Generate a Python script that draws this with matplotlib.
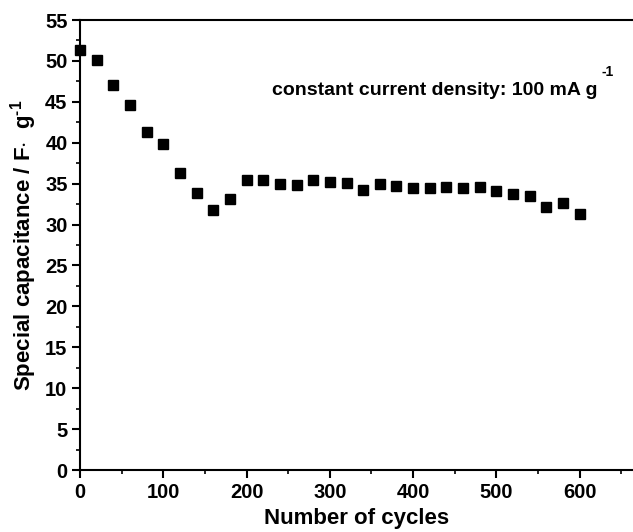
import matplotlib
matplotlib.use("Agg")
import matplotlib.pyplot as plt
from matplotlib.ticker import MultipleLocator

plt.rcParams['font.family'] = ['Liberation Sans', 'DejaVu Sans']
plt.rcParams['font.weight'] = 'bold'
plt.rcParams['mathtext.fontset'] = 'custom'
plt.rcParams['mathtext.rm'] = 'Liberation Sans:bold'
plt.rcParams['mathtext.bf'] = 'Liberation Sans:bold'
plt.rcParams['mathtext.default'] = 'bf'

# Cycle number vs specific capacitance
cycles = [0, 20, 40, 60, 80, 100, 120, 140, 160, 180, 200, 220, 240, 260, 280, 300,
          320, 340, 360, 380, 400, 420, 440, 460, 480, 500, 520, 540, 560, 580, 600]
capacitance = [51.3, 50.1, 47.1, 44.6, 41.3, 39.9, 36.3, 33.9, 31.8, 33.1, 35.5, 35.5,
               34.9, 34.8, 35.5, 35.2, 35.1, 34.2, 34.9, 34.7, 34.5, 34.5, 34.6, 34.5,
               34.6, 34.1, 33.7, 33.5, 32.2, 32.6, 31.3]

fig = plt.figure(figsize=(6.33, 5.32), dpi=100)
ax = fig.add_axes([80 / 633, 62 / 532, 1 - 80 / 633, 450 / 532])

ax.plot(cycles, capacitance, linestyle='none', marker='s', markersize=7.5,
        color='black', clip_on=False, zorder=3)

ax.set_xlim(0, 664)
ax.set_ylim(0, 55)
ax.xaxis.set_major_locator(MultipleLocator(100))
ax.xaxis.set_minor_locator(MultipleLocator(50))
ax.yaxis.set_major_locator(MultipleLocator(5))
ax.yaxis.set_minor_locator(MultipleLocator(2.5))

ax.spines['right'].set_visible(False)
for s in ['left', 'bottom', 'top']:
    ax.spines[s].set_linewidth(1.5)

ax.tick_params(which='major', direction='out', length=6, width=1.5, labelsize=14.5, pad=3)
ax.tick_params(which='minor', direction='out', length=3, width=1.2)
ax.tick_params(top=False, right=False, which='both')

ax.set_xlabel('Number of cycles', fontsize=16, fontweight='bold', labelpad=5)
ax.set_ylabel(r'Special capacitance / F$\cdot$  g$^{\text{-1}}$', fontsize=16,
              fontweight='bold', labelpad=4)

ax.text(230, 46.4, 'constant current density: 100 mA g', fontsize=14,
        fontweight='bold', ha='left', va='center')
ax.text(633, 48.6, '-1', fontsize=10, fontweight='bold', ha='center', va='center')

fig.savefig('out.png', dpi=100)
